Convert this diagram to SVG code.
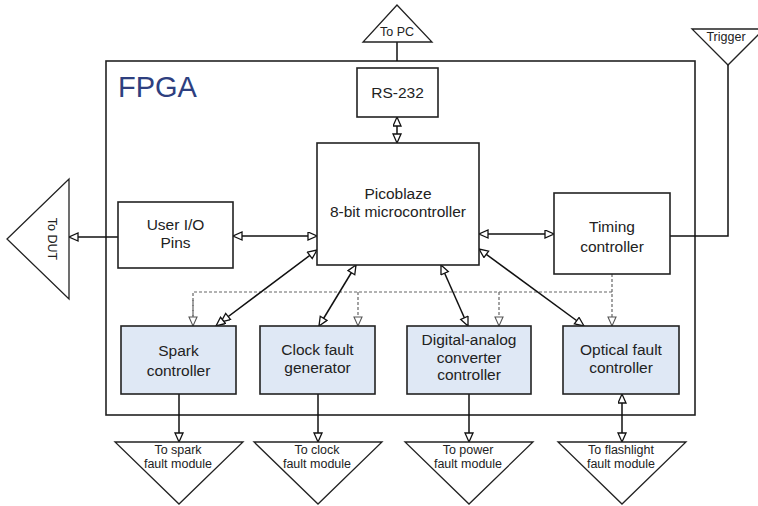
<svg xmlns="http://www.w3.org/2000/svg" width="758" height="506" viewBox="0 0 758 506">
<style>
.box{fill:#fff;stroke:#222;stroke-width:1.6}
.blue{fill:#dfe8f5;stroke:#222;stroke-width:1.6}
.tri{fill:#fff;stroke:#222;stroke-width:1.3}
.t{font-family:"Liberation Sans",Arial,sans-serif;font-size:15.5px;fill:#222;text-anchor:middle}
.s{font-family:"Liberation Sans",Arial,sans-serif;font-size:12.5px;fill:#222;text-anchor:middle}
.ln{fill:none;stroke:#111;stroke-width:1.5}
.dash{fill:none;stroke:#666;stroke-width:1.2;stroke-dasharray:3 2}
</style>
<defs>
<marker id="ah" markerUnits="userSpaceOnUse" markerWidth="12" markerHeight="10" refX="10" refY="4.5" orient="auto-start-reverse" viewBox="0 0 12 10">
<path d="M1,0.5 L10,4.5 L1,8.5 Z" fill="#fff" stroke="#111" stroke-width="1.3"/>
</marker>
<marker id="ahd" markerUnits="userSpaceOnUse" markerWidth="12" markerHeight="10" refX="10" refY="4.5" orient="auto" viewBox="0 0 12 10">
<path d="M1,0.5 L10,4.5 L1,8.5 Z" fill="#fff" stroke="#555" stroke-width="1.1"/>
</marker>
</defs>

<g id="fpga">
<rect x="106" y="61" width="589" height="354" fill="none" stroke="#222" stroke-width="1.6"/>
<text x="118" y="97" font-family="'Liberation Sans',Arial,sans-serif" font-size="29" fill="#2e3f7f">FPGA</text>
</g>

<g id="connectors">
<line class="ln" x1="397" y1="42" x2="397" y2="61"/>
<line class="ln" x1="397" y1="117" x2="397" y2="143" marker-start="url(#ah)" marker-end="url(#ah)"/>
<line class="ln" x1="118" y1="237" x2="69" y2="237" marker-end="url(#ah)"/>
<line class="ln" x1="233" y1="236" x2="317" y2="236" marker-start="url(#ah)" marker-end="url(#ah)"/>
<line class="ln" x1="479" y1="234" x2="554" y2="234" marker-start="url(#ah)" marker-end="url(#ah)"/>
<polyline class="ln" points="670,236 728,236 728,65"/>
<polyline class="dash" points="193,326 193,292 612,292"/>
<line class="dash" x1="193" y1="300" x2="193" y2="326" marker-end="url(#ahd)"/>
<line class="dash" x1="358" y1="292" x2="358" y2="326" marker-end="url(#ahd)"/>
<line class="dash" x1="499" y1="292" x2="499" y2="326" marker-end="url(#ahd)"/>
<line class="dash" x1="612" y1="274" x2="612" y2="326" marker-end="url(#ahd)"/>
<path class="ln" d="M317,250 L221,322 L216,326" marker-start="url(#ah)" marker-mid="url(#ah)" marker-end="url(#ah)"/>
<line class="ln" x1="356" y1="265" x2="319" y2="326" marker-start="url(#ah)" marker-end="url(#ah)"/>
<line class="ln" x1="441" y1="265" x2="468" y2="326" marker-start="url(#ah)" marker-end="url(#ah)"/>
<line class="ln" x1="479" y1="249" x2="584" y2="326" marker-start="url(#ah)" marker-end="url(#ah)"/>
<line class="ln" x1="179" y1="394" x2="179" y2="442" marker-end="url(#ah)"/>
<line class="ln" x1="318" y1="394" x2="318" y2="442" marker-end="url(#ah)"/>
<line class="ln" x1="469" y1="394" x2="469" y2="442" marker-end="url(#ah)"/>
<line class="ln" x1="622" y1="394" x2="622" y2="442" marker-start="url(#ah)" marker-end="url(#ah)"/>
</g>

<g id="to-pc">
<polygon class="tri" points="363,42 432,42 397,5"/>
<text class="s" x="397" y="36" font-size="13">To PC</text>
</g>
<g id="trigger">
<polygon class="tri" points="692,29 764,29 728,65"/>
<text class="s" x="726" y="41">Trigger</text>
</g>
<g id="to-dut">
<polygon class="tri" points="69,179 69,299 7,239"/>
<text class="s" x="48" y="239" font-size="13" transform="rotate(90 48 239)">To DUT</text>
</g>

<g id="rs232">
<rect class="box" x="357" y="68" width="81" height="49"/>
<text class="t" x="397.5" y="98" font-size="17">RS-232</text>
</g>
<g id="picoblaze">
<rect class="box" x="317" y="143" width="162" height="122"/>
<text class="t" x="398" y="199">Picoblaze</text>
<text class="t" x="398" y="216.5">8-bit microcontroller</text>
</g>
<g id="user-io">
<rect class="box" x="118" y="202" width="115" height="66"/>
<text class="t" x="175.5" y="230">User I/O</text>
<text class="t" x="175.5" y="247.5">Pins</text>
</g>
<g id="timing">
<rect class="box" x="554" y="193" width="116" height="81"/>
<text class="t" x="612" y="232">Timing</text>
<text class="t" x="612" y="252">controller</text>
</g>

<g id="spark">
<rect class="blue" x="121" y="326" width="115" height="68"/>
<text class="t" x="178.5" y="356">Spark</text>
<text class="t" x="178.5" y="376">controller</text>
</g>
<g id="clock">
<rect class="blue" x="260" y="326" width="115" height="68"/>
<text class="t" x="317.5" y="355">Clock fault</text>
<text class="t" x="317.5" y="372.5">generator</text>
</g>
<g id="dac">
<rect class="blue" x="407" y="326" width="124" height="68"/>
<text class="t" x="469" y="345">Digital-analog</text>
<text class="t" x="469" y="362.5">converter</text>
<text class="t" x="469" y="380">controller</text>
</g>
<g id="optical">
<rect class="blue" x="563" y="326" width="116" height="68"/>
<text class="t" x="621" y="355">Optical fault</text>
<text class="t" x="621" y="372.5">controller</text>
</g>

<g id="to-spark">
<polygon class="tri" points="115,442 243,442 179,504"/>
<text class="s" x="178" y="453.5">To spark</text>
<text class="s" x="178" y="467.5">fault module</text>
</g>
<g id="to-clock">
<polygon class="tri" points="254,442 382,442 318,504"/>
<text class="s" x="317" y="453.5">To clock</text>
<text class="s" x="317" y="467.5">fault module</text>
</g>
<g id="to-power">
<polygon class="tri" points="405,442 533,442 469,504"/>
<text class="s" x="468" y="453.5">To power</text>
<text class="s" x="468" y="467.5">fault module</text>
</g>
<g id="to-flashlight">
<polygon class="tri" points="558,442 686,442 622,504"/>
<text class="s" x="621" y="453.5">To flashlight</text>
<text class="s" x="621" y="467.5">fault module</text>
</g>
</svg>
